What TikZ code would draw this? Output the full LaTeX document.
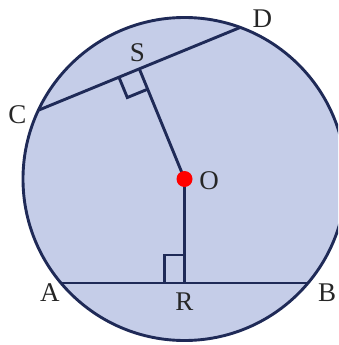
\documentclass[tikz,border=0pt]{standalone}
\usepackage{fontspec}
\setmainfont{Liberation Serif}
\usetikzlibrary{calc}
\definecolor{disc}{HTML}{C5CDE8}
\definecolor{ink}{HTML}{1F2A57}
\definecolor{centre}{HTML}{FF0000}
\begin{document}
\begin{tikzpicture}[x=1pt,y=-1pt,
  seg/.style={draw=ink,line width=2.9pt,line join=miter},
  lbl/.style={font=\fontsize{27}{32}\selectfont,inner sep=0pt,text=black!85}]
  \useasboundingbox (0,0) rectangle (338,345);
  \clip (0,0) rectangle (338,345);
  % ---- circle and points on it
  \coordinate (O) at (184.5,179);
  \fill[disc] (O) circle (161.5pt);
  \coordinate (C) at ($(O)+(154.8:161.5pt)$);
  \coordinate (D) at ($(O)+(69.8:161.5pt)$);
  \coordinate (A) at ($(O)+(220.1:161.5pt)$);
  \coordinate (B) at ($(O)+(-40.1:161.5pt)$);
  \coordinate (S) at ($(C)!(O)!(D)$);
  \coordinate (R) at ($(A)!(O)!(B)$);
  \draw[seg] (O) circle (161.5pt);
  % ---- chords and perpendiculars
  \draw[seg] (C) -- (D);
  \draw[seg] (A) -- (B);
  \draw[seg] (O) -- (S);
  \draw[seg] (O) -- (R);
  % ---- right-angle marks
  \coordinate (s1) at ($(S)!22pt!(C)$);
  \coordinate (s2) at ($(S)!22pt!(O)$);
  \draw[seg] (s1) -- ($(s1)+(s2)-(S)$) -- (s2);
  \draw[seg] ($(R)+(-20,0)$) -- ++(0,-28) -- ++(20,0);
  % ---- centre
  \fill[centre] (O) circle (8pt);
  % ---- labels
  \node[lbl] (lD) at ($(D)+(22,-9)$) {D};
  \node[lbl] (lC) at ($(C)+(-21,4)$) {C};
  \node[lbl] (lS) at ($(S)+(-2,-16)$) {S};
  \node[lbl] (lO) at ($(O)+(24.5,2)$) {O};
  \node[lbl] (lA) at ($(A)+(-11,9.5)$) {A};
  \node[lbl] (lB) at ($(B)+(19,9.5)$) {B};
  \node[lbl] (lR) at ($(R)+(0,19)$) {R};
\end{tikzpicture}
\end{document}
